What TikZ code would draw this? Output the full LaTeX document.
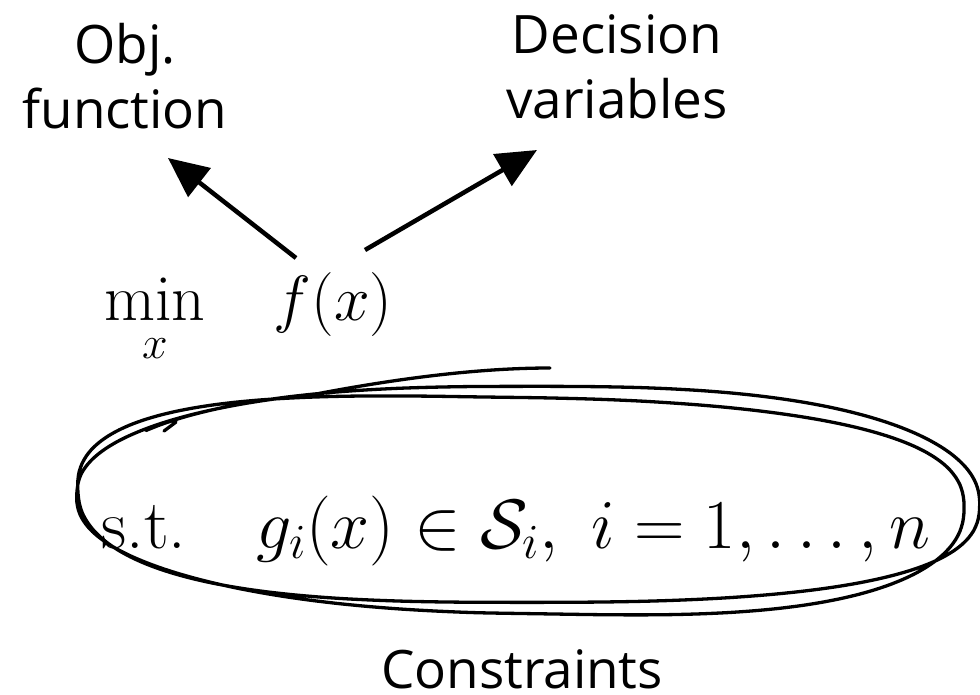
\documentclass[tikz,border=0pt]{standalone}
\usepackage{fix-cm}
\usepackage{amsmath}
\usepackage{fontspec}
\newfontfamily\labelfont{Open Sans}
\usetikzlibrary{arrows.meta}
\tikzset{
  lbl/.style={font=\labelfont\fontsize{53}{65}\selectfont, align=center, inner sep=0pt},
  mathlbl/.style={inner sep=0pt, anchor=base},
  arr/.style={line width=4.5pt, -{Triangle[length=40pt,width=36pt]}},
  scribble/.style={line width=3.3pt, line cap=round, line join=round}
}
\begin{document}
\begin{tikzpicture}[x=1pt,y=-1pt]
\useasboundingbox (0,0) rectangle (980,694);
% labels
\node[lbl, anchor=base] (obj) at (125,128) {Obj.\\function};
\node[lbl, anchor=base] (dec) at (617,118) {Decision\\variables};
\node[lbl, anchor=base] (con) at (522,688) {Constraints};
% math
\node[mathlbl] (min) at (155,320) {\fontsize{66}{70}\selectfont$\mathrm{min}$};
\node[mathlbl] (minx) at (155,358) {\fontsize{46}{50}\selectfont$x$};
\node[mathlbl] (fx) at (333,320) {\fontsize{64}{70}\selectfont$f(x)$};
\node[mathlbl] (st) at (516,548) {\fontsize{70}{80}\selectfont$\text{s.t.}\quad g_i(x)\in\mathcal{S}_i,\ i=1,\ldots,n$};
% arrows
\coordinate (a1s) at (296,258);
\coordinate (a1e) at (168,158);
\coordinate (a2s) at (365,250);
\coordinate (a2e) at (537,150);
\draw[arr] (a1s) -- (a1e);
\draw[arr] (a2s) -- (a2e);
% hand-drawn ellipse around constraints
\coordinate (tailend) at (550,368);
\draw[scribble] (176,422) -- (164,431)
  plot[smooth, domain=214:968, samples=200]
  ({527+(446+9*sin(1.37*\x))*sign(cos(\x))*pow(abs(cos(\x))+0.00001,0.74)},
   {500+0.018*(446*cos(\x))+(108+8*sin(1.5*\x))*sign(sin(\x))*pow(abs(sin(\x))+0.00001,0.85)})
  .. controls (400,378) and (480,368) .. (tailend);
\end{tikzpicture}
\end{document}
